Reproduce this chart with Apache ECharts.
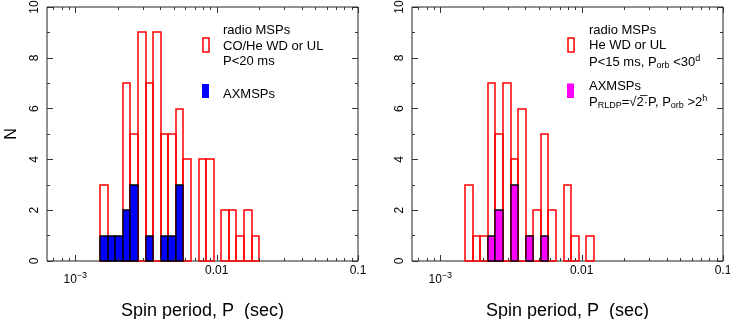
<!DOCTYPE html>
<html><head><meta charset="utf-8">
<script src="https://cdn.jsdelivr.net/npm/echarts@6/dist/echarts.min.js"></script>
<style>html,body{margin:0;padding:0;background:#fff}#c{width:730px;height:319px}</style>
</head><body><div id="c"></div>
<script>
// ---- data ----
const binLowSec = 0.0015;   // first bin edge (s)
const binHighSec = 0.02;    // last bin edge (s)
const binCount = 21;        // logarithmic bins
const radioLeft  = [3,0,0,7,5,9,7,9,5,5,6,4,0,4,4,0,2,2,1,2,1];
const axmspLeft  = [1,1,1,2,3,0,1,0,1,1,3];
const radioRight = [3,1,1,7,5,7,4,6,1,2,5,2,0,3,1,0,1];
const axmspRight = [0,0,0,1,2,0,3,0,1,0,1];
const xMajorTicks = [0.001, 0.01, 0.1];
const xMinorTicks = [0.0007,0.0008,0.0009,0.002,0.003,0.004,0.005,0.006,0.007,0.008,0.009,
                     0.02,0.03,0.04,0.05,0.06,0.07,0.08,0.09];
const xTickLabels = ['{b|10}{sup|\u22123}', '0.01', '0.1'];
const xMinSec = Math.pow(10, -3.2), xMaxSec = 0.1;
const yMin = 0, yMax = 10;

const FONT = '"Liberation Sans", Arial, sans-serif';
const lg = Math.log10;
const binW = (lg(binHighSec) - lg(binLowSec)) / binCount;
function hist(counts){
  return counts.map((n,i)=>[lg(binLowSec)+i*binW, lg(binLowSec)+(i+1)*binW, n]);
}
function barRender(fill, stroke, lw){
  return function(params, api){
    const n = api.value(2);
    if (!n) return;
    const p0 = api.coord([api.value(0), 0]);
    const p1 = api.coord([api.value(1), n]);
    const x0 = Math.round(p0[0]), x1 = Math.round(p1[0]);
    const yb = Math.round(p0[1]), yt = Math.round(p1[1]);
    return {type:'rect', shape:{x:x0, y:yt, width:x1-x0, height:yb-yt},
            style:{fill:fill, stroke:stroke, lineWidth:lw}};
  };
}
function tickRender(params, api){
  const x = api.value(0), major = api.value(1);
  const len = major ? 6 : 3;
  const b = api.coord([x, yMin]), t = api.coord([x, yMax]);
  const px = Math.round(b[0]) + 0.5;
  return {type:'group', children:[
    {type:'line', shape:{x1:px,y1:b[1],x2:px,y2:b[1]-len}, style:{stroke:'#333',lineWidth:1}},
    {type:'line', shape:{x1:px,y1:t[1],x2:px,y2:t[1]+len}, style:{stroke:'#333',lineWidth:1}}
  ]};
}
function labelRender(params, api){
  const x = api.value(0);
  const txt = xTickLabels[params.dataIndex];
  const b = api.coord([x, yMin]);
  const hasSup = txt.indexOf('{') >= 0;
  return {type:'text', x:b[0], y: hasSup ? b[1]+19 : b[1]+10,
    style:{text:txt, fill:'#000', font:'12px '+FONT, align:'center', verticalAlign:'middle',
      rich:{ b:{fontSize:12, fontFamily:FONT},
             sup:{fontSize:9, fontFamily:FONT, padding:[0,0,9,0]} } }};
}
const tickData = xMajorTicks.map(v=>[lg(v),1]).concat(xMinorTicks.map(v=>[lg(v),0]));
const labelData = xMajorTicks.map(v=>[lg(v)]);

function panelAxes(gi, showName){
  const ya = {gridIndex:gi, type:'value', min:yMin, max:yMax, interval:2,
    axisLine:{show:false}, splitLine:{show:false},
    axisTick:{show:true, inside:true, length:6, lineStyle:{color:'#333'}},
    minorTick:{show:true, splitNumber:2, length:3, lineStyle:{color:'#333'}}};
  const left = Object.assign({}, ya, {position:'left',
    axisLabel:{show:true, rotate:90, margin:6, color:'#000', fontSize:12, fontFamily:FONT},
    name: showName ? 'N' : '', nameLocation:'middle', nameRotate:90, nameGap:27,
    nameTextStyle:{color:'#000', fontSize:16, fontFamily:FONT}});
  const right = Object.assign({}, ya, {position:'right', axisLabel:{show:false}});
  const xa = {gridIndex:gi, type:'value', min:lg(xMinSec), max:lg(xMaxSec),
    axisLine:{show:false}, axisTick:{show:false}, axisLabel:{show:false}, splitLine:{show:false},
    name:'Spin period, P  (sec)', nameLocation:'middle', nameGap:41,
    nameTextStyle:{color:'#000', fontSize:18, fontFamily:FONT}};
  return {left, right, xa};
}
const a0 = panelAxes(0, true), a1 = panelAxes(1, false);

function richLegend(){
  return {
    n:{fontSize:13, fontFamily:FONT, lineHeight:16, verticalAlign:'middle', fill:'#000'},
    sub:{fontSize:9, fontFamily:FONT, lineHeight:8, verticalAlign:'bottom', fill:'#000'},
    sup:{fontSize:9, fontFamily:FONT, lineHeight:8, verticalAlign:'top', fill:'#000'}
  };
}
function legText(x, y, t){
  return {type:'text', left:x, top:y-5, style:{text:t, font:'13px '+FONT, fill:'#000', rich:richLegend()}};
}

const gridBase = {top:7, width:311, height:254, show:true, borderColor:'#222', borderWidth:1,
  backgroundColor:'transparent', containLabel:false, outerBoundsMode:'none'};
const option = {
  backgroundColor:'#fff',
  animation:false,
  grid:[
    Object.assign({left:47}, gridBase),
    Object.assign({left:412}, gridBase)
  ],
  xAxis:[a0.xa, a1.xa],
  yAxis:[a0.left, a0.right, a1.left, a1.right],
  series:[
    {type:'custom', xAxisIndex:0, yAxisIndex:0, data:hist(radioLeft), renderItem:barRender('none','#ff0000',1.5), encode:{x:[0,1], y:2}, z:2},
    {type:'custom', xAxisIndex:0, yAxisIndex:0, data:hist(axmspLeft), renderItem:barRender('#0000ff','#000',1.3), encode:{x:[0,1], y:2}, z:3},
    {type:'custom', xAxisIndex:1, yAxisIndex:2, data:hist(radioRight), renderItem:barRender('none','#ff0000',1.5), encode:{x:[0,1], y:2}, z:2},
    {type:'custom', xAxisIndex:1, yAxisIndex:2, data:hist(axmspRight), renderItem:barRender('#ff00ff','#000',1.3), encode:{x:[0,1], y:2}, z:3},
    {type:'custom', xAxisIndex:0, yAxisIndex:0, data:tickData, renderItem:tickRender, z:4, silent:true},
    {type:'custom', xAxisIndex:1, yAxisIndex:2, data:tickData, renderItem:tickRender, z:4, silent:true},
    {type:'custom', xAxisIndex:0, yAxisIndex:0, data:labelData, renderItem:labelRender, z:4, silent:true},
    {type:'custom', xAxisIndex:1, yAxisIndex:2, data:labelData, renderItem:labelRender, z:4, silent:true}
  ],
  graphic:[
    legText(223, 29, '{n|radio MSPs}'),
    legText(223, 45, '{n|CO/He WD or UL}'),
    legText(223, 60, '{n|P<20 ms}'),
    legText(223, 93, '{n|AXMSPs}'),
    {type:'rect', shape:{x:203, y:38, width:6, height:14}, style:{fill:'none', stroke:'#ff0000', lineWidth:1.5}},
    {type:'rect', shape:{x:202, y:84, width:7, height:14}, style:{fill:'#0000ff'}},
    legText(589, 29, '{n|radio MSPs}'),
    legText(589, 44, '{n|He WD or UL}'),
    legText(589, 59, '{n|P<15 ms, P}{sub|orb}{n| <30}{sup|d}'),
    legText(589, 85, '{n|AXMSPs}'),
    legText(589, 99, '{n|P}{sub|RLDP}{n|=\u221a2\u0305\u00b7P, P}{sub|orb}{n| >2}{sup|h}'),
    {type:'rect', shape:{x:568, y:38, width:6, height:14}, style:{fill:'none', stroke:'#ff0000', lineWidth:1.5}},
    {type:'rect', shape:{x:567, y:83.5, width:7, height:14.5}, style:{fill:'#ff00ff'}}
  ]
};
const chart = echarts.init(document.getElementById('c'), null, {renderer:'canvas'});
chart.setOption(option);
</script></body></html>
